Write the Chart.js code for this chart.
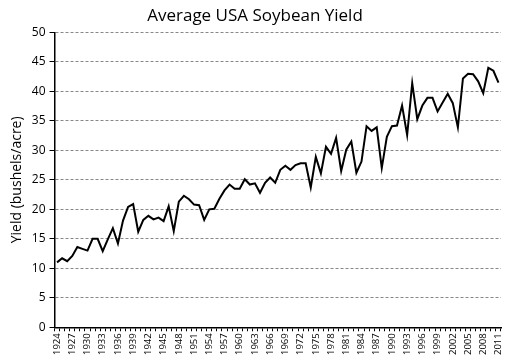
<!DOCTYPE html>
<html>
<head>
<meta charset="utf-8">
<script src="https://cdn.jsdelivr.net/npm/chart.js@4/dist/chart.umd.min.js"></script>
<style>
  html, body { margin: 0; padding: 0; background: #fff; }
  #wrap { width: 513px; height: 363px; }
</style>
</head>
<body>
<div id="wrap"><canvas id="yieldChart"></canvas></div>
<script>
// Years on the x axis
const years = [];
for (let y = 1924; y <= 2011; y++) years.push(String(y));

// Average yield, bushels/acre
const yieldValues = [
  11.0, 11.7, 11.2, 12.1, 13.6, 13.3, 13.0, 15.0, 15.0, 12.9,
  14.9, 16.8, 14.2, 18.1, 20.4, 20.9, 16.2, 18.2, 18.9, 18.3,
  18.6, 18.0, 20.5, 16.3, 21.3, 22.3, 21.7, 20.8, 20.7, 18.2,
  20.0, 20.1, 21.8, 23.2, 24.2, 23.5, 23.5, 25.1, 24.2, 24.4,
  22.8, 24.5, 25.4, 24.5, 26.7, 27.4, 26.7, 27.5, 27.8, 27.8,
  23.7, 28.9, 26.1, 30.6, 29.4, 32.1, 26.5, 30.1, 31.5, 26.2,
  28.1, 34.1, 33.3, 33.9, 27.0, 32.3, 34.1, 34.2, 37.6, 32.6,
  41.4, 35.3, 37.6, 38.9, 38.9, 36.6, 38.1, 39.6, 38.0, 33.9,
  42.2, 43.0, 42.9, 41.7, 39.7, 44.0, 43.5, 41.5
];

// Y axis ticks
const yMin = 0;
const yMax = 50;
const yStep = 5;

const fontFamily = "'Open Sans', 'Liberation Sans', sans-serif";

new Chart(document.getElementById('yieldChart'), {
  type: 'line',
  data: {
    labels: years,
    datasets: [{
      data: yieldValues,
      borderColor: '#000',
      borderWidth: 2,
      pointRadius: 0,
      tension: 0,
      fill: false
    }]
  },
  options: {
    responsive: true,
    maintainAspectRatio: false,
    animation: false,
    layout: { padding: { left: 9, right: 12, top: 4, bottom: 6 } },
    plugins: {
      legend: { display: false },
      tooltip: { enabled: false },
      title: {
        display: true,
        text: 'Average USA Soybean Yield',
        color: '#000',
        font: { family: fontFamily, size: 17, weight: 'normal' },
        padding: { top: 2, bottom: 6 }
      }
    },
    scales: {
      x: {
        offset: true,
        grid: {
          offset: true,
          drawOnChartArea: false,
          drawTicks: true,
          tickLength: 4,
          tickColor: '#000'
        },
        border: { color: '#000', width: 1.5 },
        ticks: {
          autoSkip: false,
          maxRotation: 90,
          minRotation: 90,
          padding: 2,
          color: '#000',
          font: { family: fontFamily, size: 9.5 },
          callback: function(val, i) {
            return i % 3 === 0 ? this.getLabelForValue(val) : '';
          }
        }
      },
      y: {
        min: yMin,
        max: yMax,
        ticks: {
          stepSize: yStep,
          color: '#000',
          padding: 4,
          font: { family: fontFamily, size: 12 }
        },
        grid: {
          color: '#888',
          tickColor: '#000',
          tickLength: 5,
          drawTicks: true
        },
        // dashed grid lines, solid axis line
        border: {
          color: '#000',
          width: 1.5,
          dash: (ctx) => ctx.type === 'tick' ? [3, 2] : []
        },
        title: {
          display: true,
          text: 'Yield (bushels/acre)',
          color: '#000',
          font: { family: fontFamily, size: 14 },
          padding: { top: 0, bottom: 2 }
        }
      }
    }
  }
});
</script>
</body>
</html>
